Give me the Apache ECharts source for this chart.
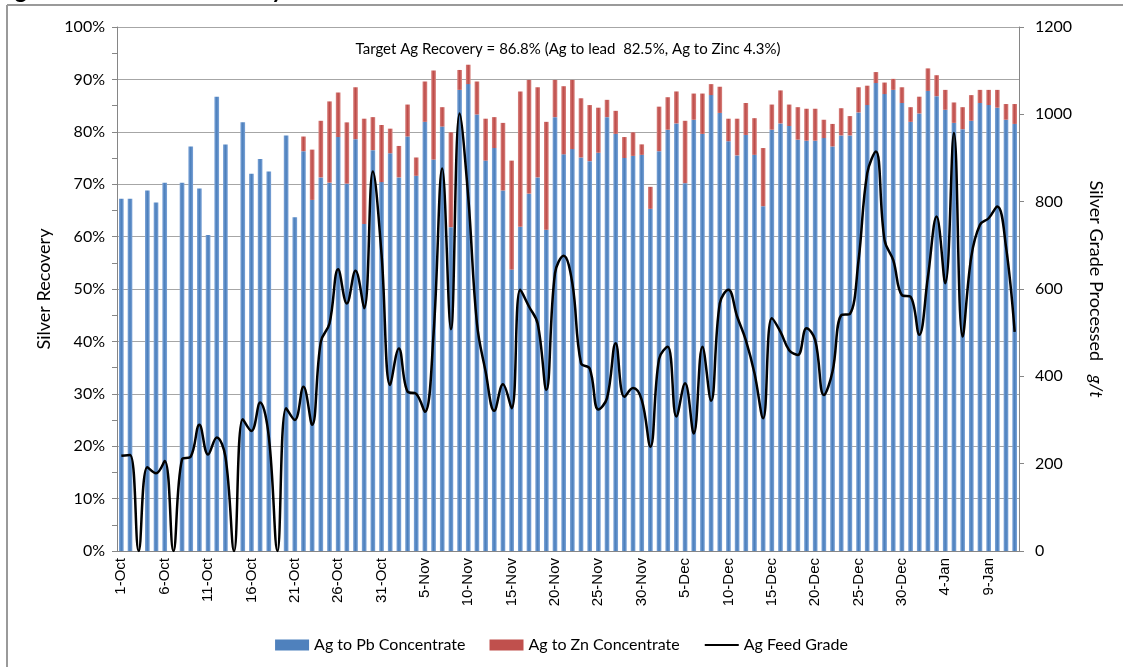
<!DOCTYPE html>
<html>
<head>
<meta charset="utf-8">
<script src="https://cdn.jsdelivr.net/npm/echarts@6/dist/echarts.min.js"></script>
<style>
  html, body { margin: 0; padding: 0; background: #fff; }
  #chart { width: 1123px; height: 667px; }
</style>
</head>
<body>
<div id="chart"></div>
<script>
// daily categories, 1-Oct to 12-Jan
const months = [["Oct", 1, 31], ["Nov", 1, 30], ["Dec", 1, 31], ["Jan", 1, 12]];
const days = [];
months.forEach(([m, from, to]) => {
  for (let d = from; d <= to; d++) days.push(d + "-" + m);
});

// Ag to Pb concentrate recovery, %
const agToPb = [
  67.2, 67.2, null, 68.8, 66.5, 70.3, null, 70.3, 77.2, 69.2,
  60.3, 86.7, 77.6, null, 81.8, 72.0, 74.8, 72.4, null, 79.3,
  63.7, 76.3, 67.0, 71.3, 70.3, 79.0, 70.1, 78.6, 62.4, 76.5,
  70.4, 75.9, 71.3, 79.1, 71.6, 81.9, 74.7, 81.0, 61.8, 88.0,
  89.1, 83.3, 74.5, 76.9, 68.8, 53.7, 61.9, 68.2, 71.3, 61.3,
  82.8, 75.7, 76.7, 75.1, 74.4, 76.0, 82.8, 79.6, 75.0, 75.4,
  75.6, 65.3, 76.3, 80.4, 81.6, 70.2, 82.3, 79.6, 87.0, 83.6,
  78.2, 75.5, 79.4, 75.6, 65.8, 80.4, 81.6, 81.1, 78.5, 78.3,
  78.3, 78.8, 77.2, 79.3, 79.3, 83.7, 85.1, 89.3, 87.2, 88.0,
  85.5, 81.9, 83.5, 87.8, 86.8, 84.2, 81.7, 80.5, 82.1, 85.5,
  85.1, 84.6, 82.3, 81.5
];

// Ag to Zn concentrate recovery, % (stacked on Pb)
const agToZn = [
  null, null, null, null, null, null, null, null, null, null,
  null, null, null, null, null, null, null, null, null, null,
  null, 2.8, 9.6, 10.8, 15.5, 8.5, 11.7, 9.9, 20.1, 6.3,
  10.9, 4.7, 6.0, 6.1, 3.5, 7.7, 17.0, 3.7, 18.1, 3.8,
  3.7, 6.3, 8.0, 5.9, 12.9, 20.8, 25.8, 21.7, 17.2, 20.6,
  7.1, 13.0, 13.2, 11.3, 10.7, 8.6, 3.3, 4.4, 4.0, 4.5,
  2.0, 4.2, 8.5, 6.2, 6.1, 11.9, 5.0, 7.7, 2.1, 5.0,
  4.3, 7.0, 6.1, 7.0, 11.1, 4.8, 6.3, 4.1, 6.2, 6.1,
  6.1, 3.5, 4.3, 5.2, 3.7, 4.8, 3.7, 2.1, 2.2, 2.1,
  3.0, 2.8, 3.2, 4.3, 4.0, 3.8, 3.9, 4.2, 4.9, 2.5,
  2.9, 3.4, 3.0, 3.8
];

// Ag feed grade, g/t
const feedGrade = [
  218, 220, 0, 192, 178, 206, 0, 210, 216, 289,
  221, 260, 216, 0, 302, 275, 340, 262, 0, 327,
  300, 376, 289, 479, 521, 645, 567, 642, 556, 869,
  680, 380, 464, 365, 360, 319, 498, 876, 508, 1002,
  810, 521, 411, 321, 382, 327, 598, 560, 521, 369,
  636, 676, 613, 430, 418, 324, 350, 476, 353, 373,
  346, 239, 440, 468, 308, 384, 269, 468, 344, 567,
  598, 537, 483, 407, 304, 533, 502, 460, 449, 510,
  483, 357, 411, 540, 543, 666, 865, 915, 712, 666,
  586, 582, 495, 628, 766, 613, 957, 491, 674, 747,
  762, 789, 697, 502
];

const FONT = "Lato, 'Liberation Sans', sans-serif";
const chart = echarts.init(document.getElementById("chart"), null, { renderer: "canvas" });

const blueFill = new echarts.graphic.LinearGradient(0, 0, 1, 0, [
  { offset: 0, color: "#7ea5d8" },
  { offset: 0.5, color: "#4a7ebb" },
  { offset: 1, color: "#7ea5d8" }
]);
const redFill = new echarts.graphic.LinearGradient(0, 0, 1, 0, [
  { offset: 0, color: "#d98480" },
  { offset: 0.5, color: "#be4b48" },
  { offset: 1, color: "#d98480" }
]);

chart.setOption({
  animation: false,
  textStyle: { fontFamily: FONT, color: "#000" },
  graphic: [
    { type: "text", left: -4, top: -21,
      style: { text: "Figure 13-3: Silver Recovery", font: "bold 23px " + FONT, fill: "#000" } },
    { type: "line", shape: { x1: 7, y1: 5, x2: 1123, y2: 5 }, style: { stroke: "#9a9a9a", lineWidth: 2 } },
    { type: "line", shape: { x1: 7, y1: 5, x2: 7, y2: 667 }, style: { stroke: "#9a9a9a", lineWidth: 2 } },
    { type: "text", x: 568, y: 42,
      style: { text: "Target Ag Recovery = 86.8% (Ag to lead  82.5%, Ag to Zinc 4.3%)",
               font: "15px " + FONT, fill: "#000", align: "center" } }
  ],
  legend: {
    bottom: 9,
    left: "center",
    itemWidth: 34,
    itemHeight: 11,
    itemGap: 24,
    textStyle: { fontSize: 16, fontFamily: FONT, color: "#000" },
    data: [
      { name: "Ag to Pb Concentrate", icon: "rect", itemStyle: { color: "#4f81bd" } },
      { name: "Ag to Zn Concentrate", icon: "rect", itemStyle: { color: "#c0504d" } },
      { name: "Ag Feed Grade", itemStyle: { opacity: 0 } }
    ]
  },
  grid: { left: 117, right: 104, top: 27, bottom: 116 },
  xAxis: {
    type: "category",
    data: days,
    boundaryGap: true,
    axisLine: { lineStyle: { color: "#868686" } },
    axisTick: { interval: 4, length: 5, lineStyle: { color: "#868686" } },
    axisLabel: { interval: 4, rotate: 90, fontSize: 15, color: "#000", margin: 7,
                 fontFamily: "'Liberation Sans', Arial, sans-serif" }
  },
  yAxis: [
    {
      type: "value",
      min: 0, max: 100, interval: 10,
      name: "Silver Recovery",
      nameLocation: "middle",
      nameGap: 64,
      nameTextStyle: { fontSize: 18, color: "#000", fontFamily: FONT },
      axisLine: { show: true, lineStyle: { color: "#868686" } },
      axisTick: { show: true, length: 5, lineStyle: { color: "#868686" } },
      minorTick: { show: true, splitNumber: 2, length: 5, lineStyle: { color: "#868686" } },
      splitLine: { lineStyle: { color: "#a6a6a6" } },
      axisLabel: { formatter: "{value}%", fontSize: 16, color: "#000", margin: 12, fontFamily: FONT }
    },
    {
      type: "value",
      min: 0, max: 1200, interval: 200,
      name: "Silver Grade Processed   {i|g/t}",
      nameLocation: "middle",
      nameRotate: -90,
      nameGap: 68,
      nameTextStyle: { fontSize: 18, color: "#000", fontFamily: FONT,
                       rich: { i: { fontSize: 18, fontStyle: "italic", fontFamily: FONT } } },
      axisLine: { show: true, lineStyle: { color: "#868686" } },
      axisTick: { show: true, length: 5, lineStyle: { color: "#868686" } },
      splitLine: { show: false },
      axisLabel: { formatter: (v) => String(v), fontSize: 16, color: "#000", margin: 16, fontFamily: FONT }
    }
  ],
  series: [
    {
      name: "Ag to Pb Concentrate",
      type: "bar",
      stack: "rec",
      data: agToPb,
      barWidth: "54%",
      itemStyle: { color: blueFill }
    },
    {
      name: "Ag to Zn Concentrate",
      type: "bar",
      stack: "rec",
      data: agToZn,
      barWidth: "54%",
      itemStyle: { color: redFill }
    },
    {
      name: "Ag Feed Grade",
      type: "line",
      yAxisIndex: 1,
      data: feedGrade,
      smooth: 0.4,
      symbol: "none",
      z: 5,
      lineStyle: { color: "#000", width: 2.5 },
      itemStyle: { color: "#000" }
    }
  ]
});
</script>
</body>
</html>
